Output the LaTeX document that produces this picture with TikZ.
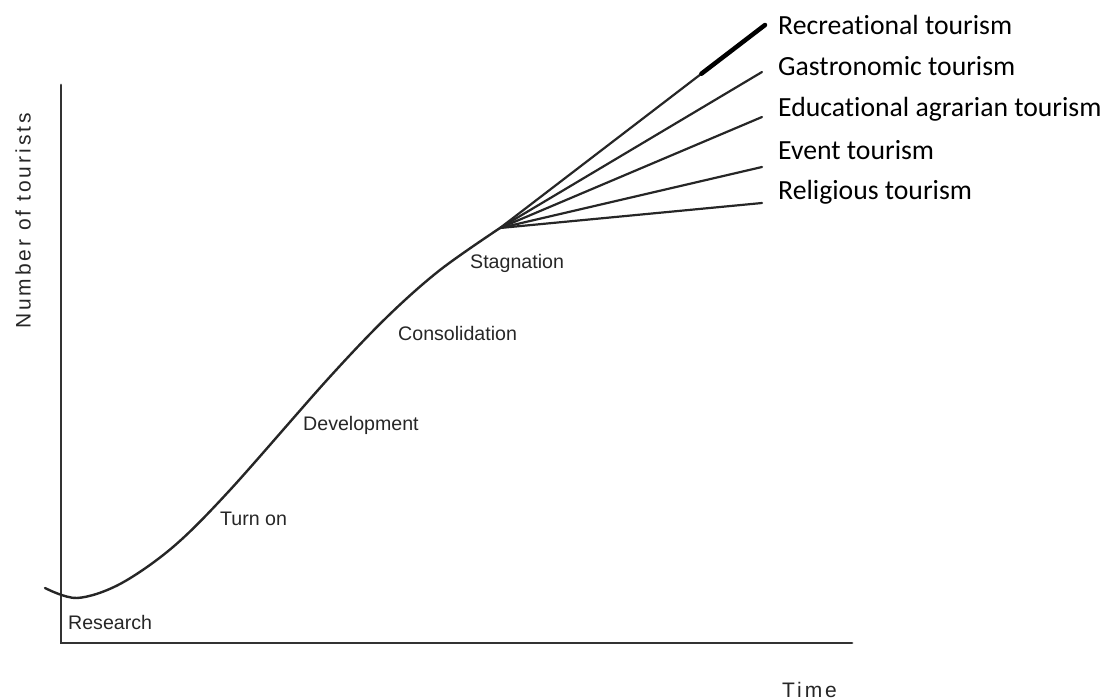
\documentclass[tikz,border=0pt]{standalone}
\usepackage{fontspec}
\setmainfont{Liberation Sans}
\newfontfamily\branchfont[RawFeature={-liga;-clig;-calt;-dlig}]{Carlito}
\newfontfamily\axisfont[LetterSpace=14]{Liberation Sans}
\usetikzlibrary{calc}

\begin{document}
\begin{tikzpicture}[x=1pt, y=-1pt, line cap=round,
    axis/.style={line width=2.8pt, black!80},
    curve/.style={line width=2.4pt, black!85},
    branch/.style={line width=2.2pt, black!85},
    phase/.style={anchor=west, inner sep=0pt, font=\fontsize{19.6}{22}\selectfont, black!85},
    kind/.style={anchor=west, inner sep=0pt, font=\branchfont\fontsize{27.7}{32}\selectfont},
    axislabel/.style={inner sep=0pt, font=\axisfont\fontsize{21}{24}\selectfont, black!85}]
  \useasboundingbox (0,0) rectangle (1113,700);
  \coordinate (top) at (61,85);
  \coordinate (orig) at (61,643);
  \coordinate (right) at (852,643);
  \draw[axis] (top) -- (orig) -- (right);
  \node[axislabel, rotate=90] (ylab) at (23,221) {Number of tourists};
  \node[axislabel, anchor=west] (xlab) at (782,690) {Time};

  \coordinate (stag) at (500,228);
  \draw[curve] plot[smooth, tension=0.55] coordinates {(45,588) (77,598) (120,584) (173,547)
    (230,490) (327,380) (387,317) (440,270) (500,228)};

  \node[phase] (research) at (68,622) {Research};
  \node[phase] (turnon) at (220,519) {Turn on};
  \node[phase] (develop) at (303,425) {Development};
  \node[phase] (consol) at (398,333) {Consolidation};
  \node[phase] (stagn) at (470,263) {Stagnation};

  \coordinate (rec) at (765,25);
  \coordinate (gas) at (762,72);
  \coordinate (edu) at (762,117);
  \coordinate (evt) at (762,167);
  \coordinate (rel) at (762,203);
  \foreach \b in {rec,gas,edu,evt,rel}
    \draw[branch] (stag) -- (\b);
  \draw[line width=4.5pt] ($(stag)!0.76!(rec)$) -- (rec);

  \node[kind] (recl) at (778,25) {Recreational tourism};
  \node[kind] (gasl) at (778,66) {Gastronomic tourism};
  \node[kind] (edul) at (778,109) {Educational agrarian tourism};
  \node[kind] (evtl) at (778,150) {Event tourism};
  \node[kind] (rell) at (778,192) {Religious tourism};
\end{tikzpicture}
\end{document}
